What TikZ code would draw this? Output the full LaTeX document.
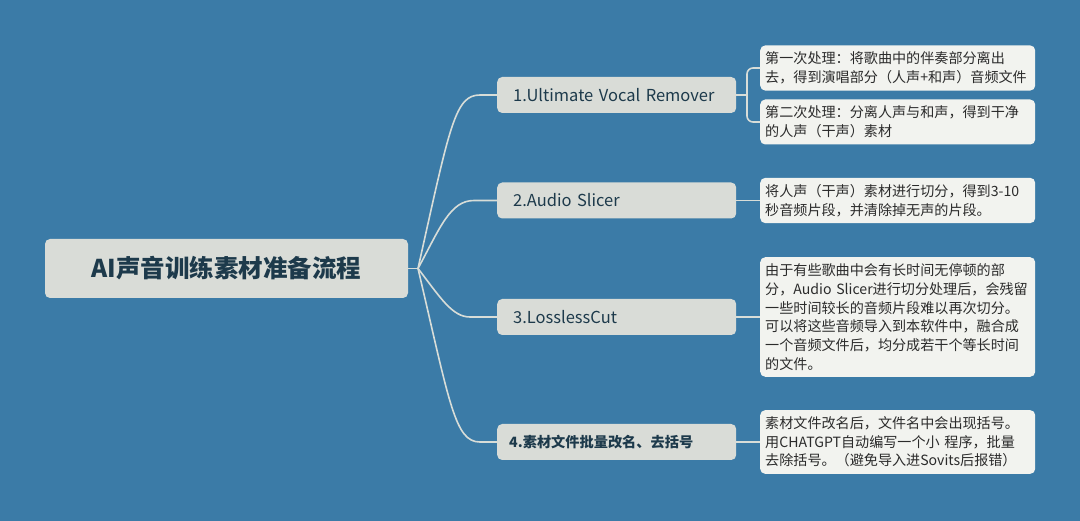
\documentclass[tikz,border=0pt]{standalone}
\usepackage{fontspec}
\setmainfont{Noto Sans CJK SC}
\definecolor{bg}{HTML}{3B7BA7}
\definecolor{mainfill}{HTML}{D9DCD7}
\definecolor{detfill}{HTML}{F2F3EF}
\definecolor{dark}{HTML}{1D3A4B}
\definecolor{txt}{HTML}{2B2B2B}
\definecolor{line}{HTML}{D8DDD8}
\tikzset{
  rootbox/.style={fill=mainfill, rounded corners=5pt, minimum width=363pt, minimum height=59pt, inner sep=0pt, text=dark, font=\fontsize{24.5}{28}\selectfont\bfseries},
  mainbox/.style={fill=mainfill, rounded corners=5pt, minimum width=239pt, minimum height=36pt, text width=207pt, inner xsep=16pt, inner ysep=0pt, align=left, text=dark, font=\fontsize{16.5}{19}\selectfont},
  detbox/.style={fill=detfill, rounded corners=5pt, minimum width=275pt, text width=265pt, inner xsep=5pt, inner ysep=6.5pt, align=left, text=txt, font=\fontsize{14.1}{18.7}\selectfont},
  conn/.style={draw=line, line width=1.6pt},
}
\begin{document}
\begin{tikzpicture}[x=1pt,y=-1pt]
\fill[bg] (0,0) rectangle (1080,521);
\useasboundingbox (0,0) rectangle (1080,521);

\node[rootbox] (root) at (226.5,268.5) {AI声音训练素材准备流程};
\node[mainbox, anchor=west] (m1) at (497,95) {1.Ultimate Vocal Remover};
\node[mainbox, anchor=west] (m2) at (497,200.5) {2.Audio Slicer};
\node[mainbox, anchor=west] (m3) at (497,317) {3.LosslessCut};
\node[mainbox, anchor=west, text width=215pt, inner xsep=12pt, font=\fontsize{14.2}{17}\selectfont\bfseries] (m4) at (497,442) {4.素材文件批量改名、去括号};

\node[detbox, anchor=west] (a) at (760,68) {第一次处理：将歌曲中的伴奏部分离出\\去，得到演唱部分（人声+和声）音频文件};
\node[detbox, anchor=west] (b) at (760,122) {第二次处理：分离人声与和声，得到干净\\的人声（干声）素材};
\node[detbox, anchor=west] (c) at (760,200.5) {将人声（干声）素材进行切分，得到3-10\\秒音频片段，并清除掉无声的片段。};
\node[detbox, anchor=west] (d) at (760,317) {由于有些歌曲中会有长时间无停顿的部\\分，Audio Slicer进行切分处理后，会残留\\一些时间较长的音频片段难以再次切分。\\可以将这些音频导入到本软件中，融合成\\一个音频文件后，均分成若干个等长时间\\的文件。};
\node[detbox, anchor=west] (e) at (760,442) {素材文件改名后，文件名中会出现括号。\\用CHATGPT自动编写一个小 程序，批量\\去除括号。（避免导入进Sovits后报错）};

\coordinate (j) at (418,268.5);
\coordinate (k) at (747,95);
\draw[conn] (root.east) -- (j);
\draw[conn] (j) .. controls (450,125) and (455,95) .. (480,95) -- (m1.west);
\draw[conn] (j) .. controls (440,228) and (450,200.5) .. (474,200.5) -- (m2.west);
\draw[conn] (j) .. controls (440,297) and (452,317) .. (470,317) -- (m3.west);
\draw[conn] (j) .. controls (450,405) and (455,442) .. (480,442) -- (m4.west);

\draw[conn] (m1.east) -- (k);
\draw[conn, rounded corners=6pt] (a.west) -| (k) |- (b.west);
\draw[conn] (m2.east) -- (c.west);
\draw[conn] (m3.east) -- (d.west);
\draw[conn] (m4.east) -- (e.west);
\end{tikzpicture}
\end{document}
